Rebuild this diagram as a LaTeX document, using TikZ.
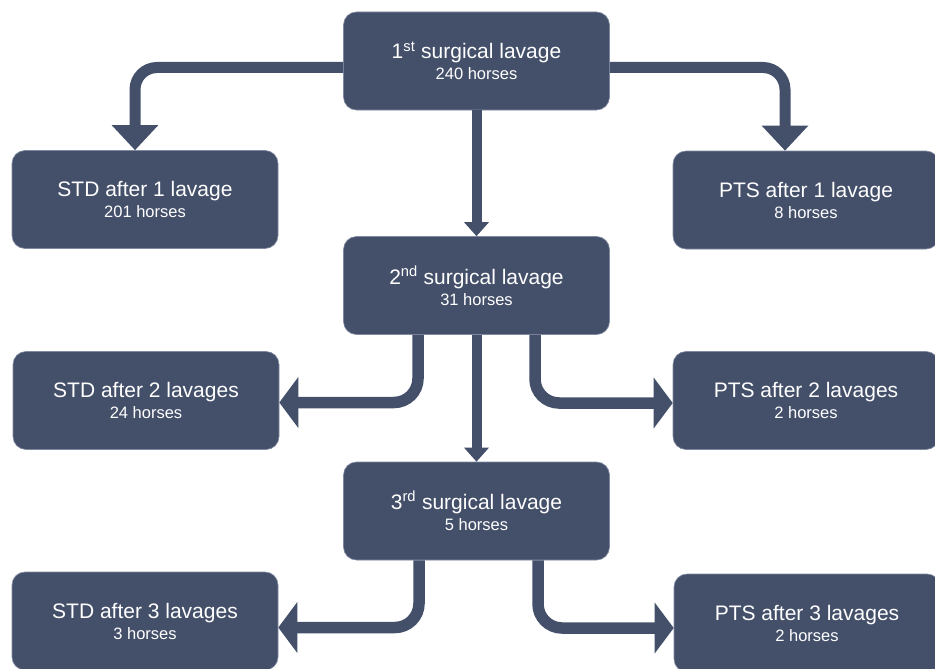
\documentclass[tikz,border=0pt]{standalone}
\usepackage{fontspec}
\setmainfont{Liberation Sans}
\usetikzlibrary{arrows.meta,calc}
\definecolor{boxc}{HTML}{44506A}
\definecolor{boxedge}{HTML}{8089A0}
\tikzset{
  box/.style={rectangle, rounded corners=13pt, fill=boxc, draw=boxedge, line width=0.6pt,
    minimum width=266pt, minimum height=98pt, inner sep=0pt, text=white, align=center,
    font=\fontsize{21}{24}\selectfont},
  sub/.style={},
  sidearrow/.style={draw=boxc, line width=11pt, rounded corners=22pt,
    -{Triangle[width=45pt,length=25pt]}},
  lowarrow/.style={draw=boxc, line width=11.5pt, rounded corners=24pt,
    -{Triangle[width=50pt,length=19pt]}},
  downarrow/.style={draw=boxc, line width=10pt,
    -{Triangle[width=24pt,length=14pt]}}
}
\newcommand{\hsub}[1]{{\fontsize{16.5}{20}\selectfont #1}}
\begin{document}
\begin{tikzpicture}[x=1pt,y=-1pt]
\useasboundingbox (0,0) rectangle (935,669);
\node[box] (n1) at (476.5,61) {1\textsuperscript{st} surgical lavage\\[-3pt]\hsub{240 horses}};
\node[box] (s1) at (145,199.5) {STD after 1 lavage\\[-3pt]\hsub{201 horses}};
\node[box] (p1) at (806,200) {PTS after 1 lavage\\[-3pt]\hsub{8 horses}};
\node[box] (n2) at (476.5,285.5) {2\textsuperscript{nd} surgical lavage\\[-3pt]\hsub{31 horses}};
\node[box] (s2) at (146,400.5) {STD after 2 lavages\\[-3pt]\hsub{24 horses}};
\node[box] (p2) at (806,400.5) {PTS after 2 lavages\\[-3pt]\hsub{2 horses}};
\node[box] (n3) at (476.5,511) {3\textsuperscript{rd} surgical lavage\\[-3pt]\hsub{5 horses}};
\node[box] (s3) at (145,621) {STD after 3 lavages\\[-3pt]\hsub{3 horses}};
\node[box] (p3) at (807,623) {PTS after 3 lavages\\[-3pt]\hsub{2 horses}};

\draw[sidearrow] ($(n1.west)+(0,6.5)$) -| ($(s1.north)+(-10,0)$);
\draw[sidearrow] ($(n1.east)+(0,6.5)$) -| ($(p1.north)+(-21,0)$);
\draw[downarrow] (n1.south) -- (n2.north);
\draw[lowarrow] ($(n2.south)+(-58.5,0)$) |- ($(s2.east)+(0,2)$);
\draw[lowarrow] ($(n2.south)+(58.5,0)$) |- ($(p2.west)+(0,2.5)$);
\draw[downarrow] (n2.south) -- (n3.north);
\draw[lowarrow] ($(n3.south)+(-57.5,0)$) |- ($(s3.east)+(0,6.5)$);
\draw[lowarrow] ($(n3.south)+(61.5,0)$) |- ($(p3.west)+(0,5)$);
\end{tikzpicture}
\end{document}
